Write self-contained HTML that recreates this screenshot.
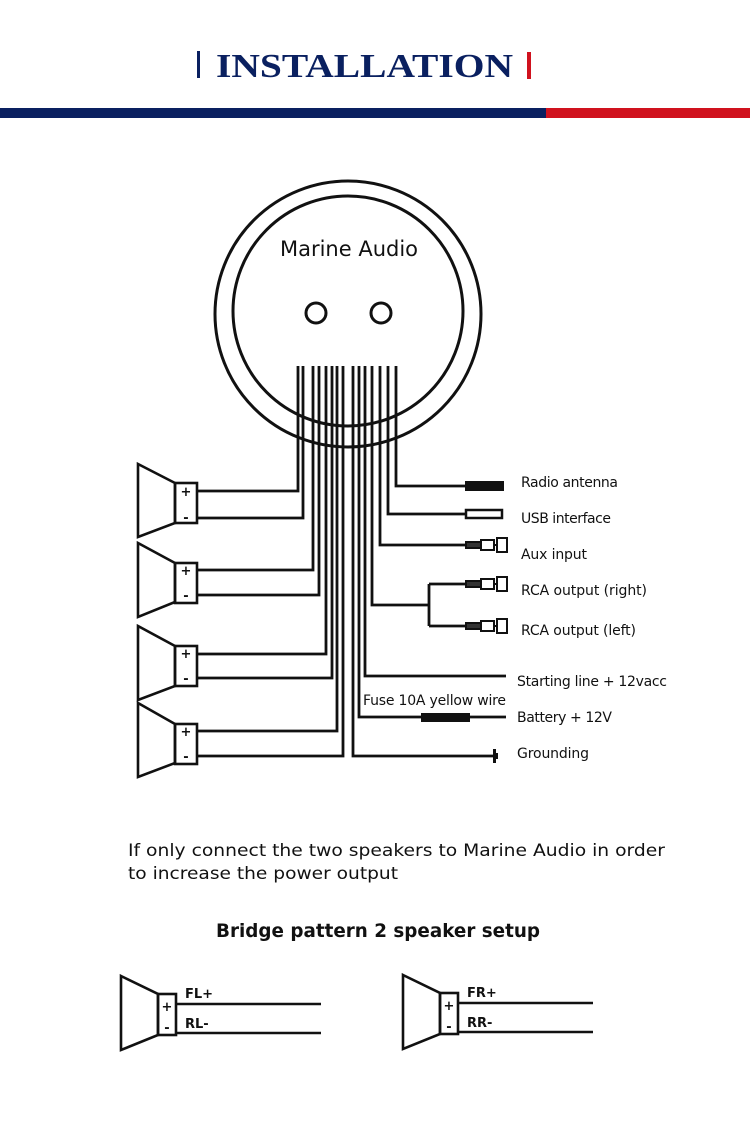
<!DOCTYPE html>
<html><head><meta charset="utf-8"><style>
html,body{margin:0;padding:0;background:#fff;}
svg{display:block;}
.t{font-family:"DejaVu Sans","Liberation Sans",sans-serif;fill:#111;}
</style></head><body>
<svg width="750" height="1122" viewBox="0 0 750 1122" xmlns="http://www.w3.org/2000/svg">
<rect width="750" height="1122" fill="#fff"/>
<rect x="197" y="51" width="3" height="27" fill="#0a2060"/>
<text x="216" y="77" font-family="Liberation Serif,serif" font-weight="bold" font-size="34" fill="#0a2060" textLength="297" lengthAdjust="spacingAndGlyphs">INSTALLATION</text>
<rect x="527" y="52" width="4" height="27" fill="#d0121e"/>
<rect x="0" y="108" width="546" height="10" fill="#0a2060"/>
<rect x="546" y="108" width="204" height="10" fill="#d0121e"/>

<g fill="none" stroke="#111" stroke-width="2.8">
<polyline points="298,366 298,491 197,491"/>
<polyline points="303,366 303,518 197,518"/>
<polyline points="313,366 313,570 197,570"/>
<polyline points="319,366 319,595 197,595"/>
<polyline points="326,366 326,654 197,654"/>
<polyline points="332,366 332,678 197,678"/>
<polyline points="337,366 337,731 197,731"/>
<polyline points="343,366 343,756 197,756"/>
<polyline points="396,366 396,486 466,486"/>
<polyline points="388,366 388,514 466,514"/>
<polyline points="380,366 380,545 466,545"/>
<polyline points="372,366 372,605 429,605"/>
<polyline points="429,584 429,626"/>
<polyline points="429,584 466,584"/>
<polyline points="429,626 466,626"/>
<polyline points="365,366 365,676 506,676"/>
<polyline points="359,366 359,717 506,717"/>
<polyline points="353,366 353,756 495,756"/>
</g>
<g fill="none" stroke="#111" stroke-width="3">
<circle cx="348" cy="314" r="133"/>
<circle cx="348" cy="311" r="115"/>
<circle cx="316" cy="313" r="10"/>
<circle cx="381" cy="313" r="10"/>
</g>
<text class="t" x="349" y="256" font-size="21" text-anchor="middle" font-family="Liberation Sans,sans-serif">Marine Audio</text>

<g fill="none" stroke="#111" stroke-width="2.6">
<polygon points="138,464 175,483 175,523 138,537"/>
<rect x="175" y="483" width="22" height="40"/>
<polygon points="138,543 175,563 175,602 138,617"/>
<rect x="175" y="563" width="22" height="40"/>
<polygon points="138,626 175,646 175,686 138,700"/>
<rect x="175" y="646" width="22" height="40"/>
<polygon points="138,703 175,724 175,763 138,777"/>
<rect x="175" y="724" width="22" height="40"/>
<polygon points="121,976 158,994 158,1035 121,1050"/>
<rect x="158" y="994" width="18" height="41"/>
<line x1="176" y1="1004" x2="321" y2="1004"/>
<line x1="176" y1="1033" x2="321" y2="1033"/>
<polygon points="403,975 440,993 440,1034 403,1049"/>
<rect x="440" y="993" width="18" height="41"/>
<line x1="458" y1="1003" x2="593" y2="1003"/>
<line x1="458" y1="1032" x2="593" y2="1032"/>
</g>
<g class="t" font-size="13" font-weight="bold" text-anchor="middle">
<text x="186" y="496">+</text><text x="186" y="522">-</text>
<text x="186" y="575">+</text><text x="186" y="600">-</text>
<text x="186" y="658">+</text><text x="186" y="683">-</text>
<text x="186" y="736">+</text><text x="186" y="761">-</text>
<text x="167" y="1011">+</text><text x="167" y="1032">-</text>
<text x="449" y="1010">+</text><text x="449" y="1031">-</text>
</g>
<rect x="465" y="481" width="39" height="10" fill="#111"/>
<rect x="466" y="510" width="36" height="8" fill="#fff" stroke="#111" stroke-width="2.5"/>
<g fill="#fff" stroke="#111" stroke-width="2">
<g transform="translate(0,545)"><rect x="466" y="-3" width="15" height="6" fill="#333"/><rect x="481" y="-5" width="13" height="10"/><rect x="497" y="-7" width="10" height="14"/><line x1="494" y1="0" x2="497" y2="0"/></g>
<g transform="translate(0,584)"><rect x="466" y="-3" width="15" height="6" fill="#333"/><rect x="481" y="-5" width="13" height="10"/><rect x="497" y="-7" width="10" height="14"/><line x1="494" y1="0" x2="497" y2="0"/></g>
<g transform="translate(0,626)"><rect x="466" y="-3" width="15" height="6" fill="#333"/><rect x="481" y="-5" width="13" height="10"/><rect x="497" y="-7" width="10" height="14"/><line x1="494" y1="0" x2="497" y2="0"/></g>
</g>
<rect x="421" y="713" width="49" height="9" fill="#111"/>
<rect x="493" y="749" width="3" height="14" fill="#111"/>
<rect x="496" y="753" width="2" height="6" fill="#111"/>
<g class="t" font-size="14">
<text x="521" y="487" textLength="97">Radio antenna</text>
<text x="521" y="523" textLength="90">USB interface</text>
<text x="521" y="559" textLength="66">Aux input</text>
<text x="521" y="595" textLength="126">RCA output (right)</text>
<text x="521" y="635" textLength="115">RCA output (left)</text>
<text x="517" y="686" textLength="150">Starting line + 12vacc</text>
<text x="363" y="705" textLength="143">Fuse 10A yellow wire</text>
<text x="517" y="722" textLength="95">Battery + 12V</text>
<text x="517" y="758" textLength="72">Grounding</text>
</g>
<g class="t" font-size="17">
<text x="128" y="856" textLength="537" lengthAdjust="spacingAndGlyphs">If only connect the two speakers to Marine Audio in order</text>
<text x="128" y="879" textLength="270" lengthAdjust="spacingAndGlyphs">to increase the power output</text>
<text x="216" y="937" font-size="19" font-weight="bold" textLength="324" lengthAdjust="spacingAndGlyphs">Bridge pattern 2 speaker setup</text>
</g>
<g class="t" font-size="13" font-weight="bold">
<text x="185" y="998">FL+</text><text x="185" y="1028">RL-</text>
<text x="467" y="997">FR+</text><text x="467" y="1027">RR-</text>
</g>
</svg>
</body></html>
